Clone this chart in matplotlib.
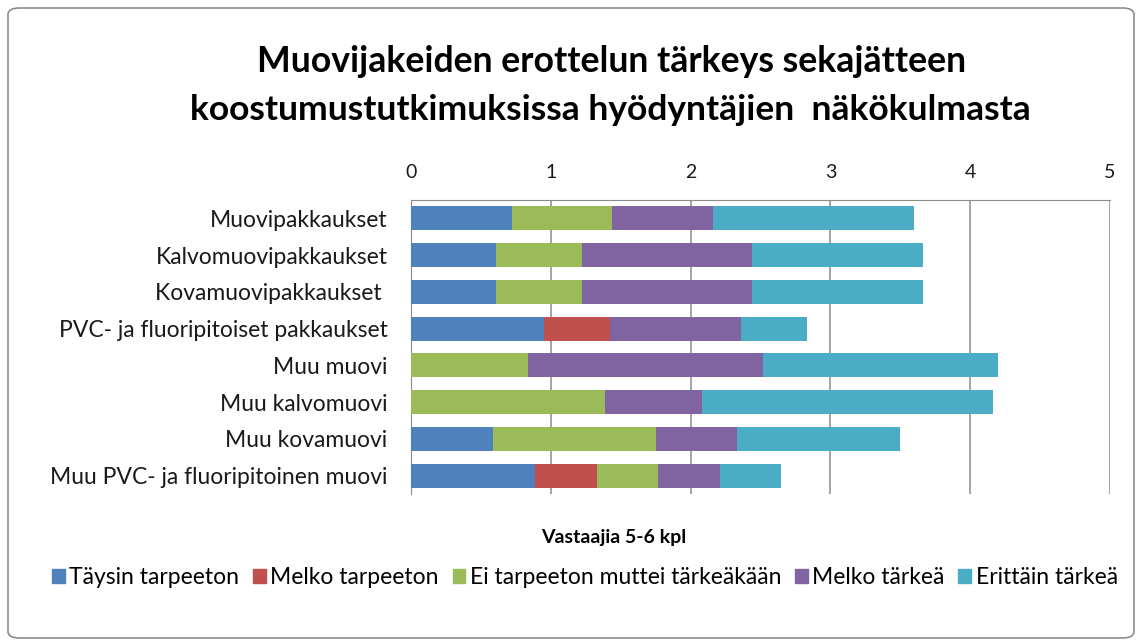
import numpy as np
import matplotlib.pyplot as plt
from matplotlib.patches import FancyBboxPatch, Patch

plt.rcParams['font.family'] = ['Lato', 'DejaVu Sans']

categories = ['Muovipakkaukset', 'Kalvomuovipakkaukset', 'Kovamuovipakkaukset ',
              'PVC- ja fluoripitoiset pakkaukset', 'Muu muovi', 'Muu kalvomuovi',
              'Muu kovamuovi', 'Muu PVC- ja fluoripitoinen muovi']
series_names = ['Täysin tarpeeton', 'Melko tarpeeton', 'Ei tarpeeton muttei tärkeäkään',
                'Melko tärkeä', 'Erittäin tärkeä']
taysin_tarpeeton = [0.72, 0.61, 0.61, 0.95, 0.0, 0.0, 0.59, 0.89]
melko_tarpeeton = [0.0, 0.0, 0.0, 0.47, 0.0, 0.0, 0.0, 0.44]
ei_tarpeeton = [0.72, 0.61, 0.61, 0.0, 0.84, 1.39, 1.16, 0.44]
melko_tarkea = [0.72, 1.22, 1.22, 0.94, 1.68, 0.69, 0.58, 0.44]
erittain_tarkea = [1.44, 1.22, 1.22, 0.47, 1.68, 2.08, 1.17, 0.44]
colors = ['#4F81BD', '#C0504D', '#9BBB59', '#8064A2', '#4BACC6']

values = [taysin_tarpeeton, melko_tarpeeton, ei_tarpeeton, melko_tarkea, erittain_tarkea]

fig = plt.figure(figsize=(11.42, 6.44), dpi=100)
# rounded chart border
fig.patches.append(FancyBboxPatch((8 / 1142, 6 / 644), 1126 / 1142, 630 / 644,
                                  boxstyle='round,pad=0,rounding_size=0.01',
                                  transform=fig.transFigure, fill=False,
                                  edgecolor='#8c8c8c', linewidth=1.2))

ax = fig.add_axes([411 / 1142, 150 / 644, 699 / 1142, 294 / 644])
y = np.arange(len(categories))
left = np.zeros(len(categories))
for vals, name, c in zip(values, series_names, colors):
    ax.barh(y, vals, left=left, height=0.65, color=c, label=name, zorder=3)
    left = left + np.array(vals)

ax.set_xlim(0, 5)
ax.set_ylim(len(categories) - 0.5, -0.5)
ax.set_yticks(y)
ax.set_yticklabels(categories, fontsize=16.5, color='#1a1a1a')
ax.xaxis.tick_top()
ax.set_xticks(range(6))
ax.set_xticklabels([str(i) for i in range(6)], fontsize=14, color='#1a1a1a')
ax.tick_params(axis='x', length=0, pad=14)
ax.tick_params(axis='y', length=0, pad=17)
ax.grid(axis='x', color='#8c8c8c', linewidth=1.1, zorder=0)
for s in ['bottom', 'right']:
    ax.spines[s].set_visible(False)
for s in ['top', 'left']:
    ax.spines[s].set_color('#8c8c8c')

fig.text(612 / 1142, 1 - 62 / 644, 'Muovijakeiden erottelun tärkeys sekajätteen',
         ha='center', va='center', fontsize=25.7, fontweight='bold')
fig.text(610 / 1142, 1 - 110 / 644, 'koostumustutkimuksissa hyödyntäjien  näkökulmasta',
         ha='center', va='center', fontsize=25.5, fontweight='bold')
fig.text(614 / 1142, 1 - 537 / 644, 'Vastaajia 5-6 kpl', ha='center', va='center',
         fontsize=14, fontweight='bold')

handles = [Patch(color=c) for c in colors]
fig.legend(handles, series_names, loc='center', bbox_to_anchor=(585 / 1142, 1 - 578 / 644),
           ncol=5, frameon=False, fontsize=16.5, handlelength=0.55, handleheight=0.55,
           handletextpad=0.2, columnspacing=0.6)

fig.savefig('out.png', dpi=100)
